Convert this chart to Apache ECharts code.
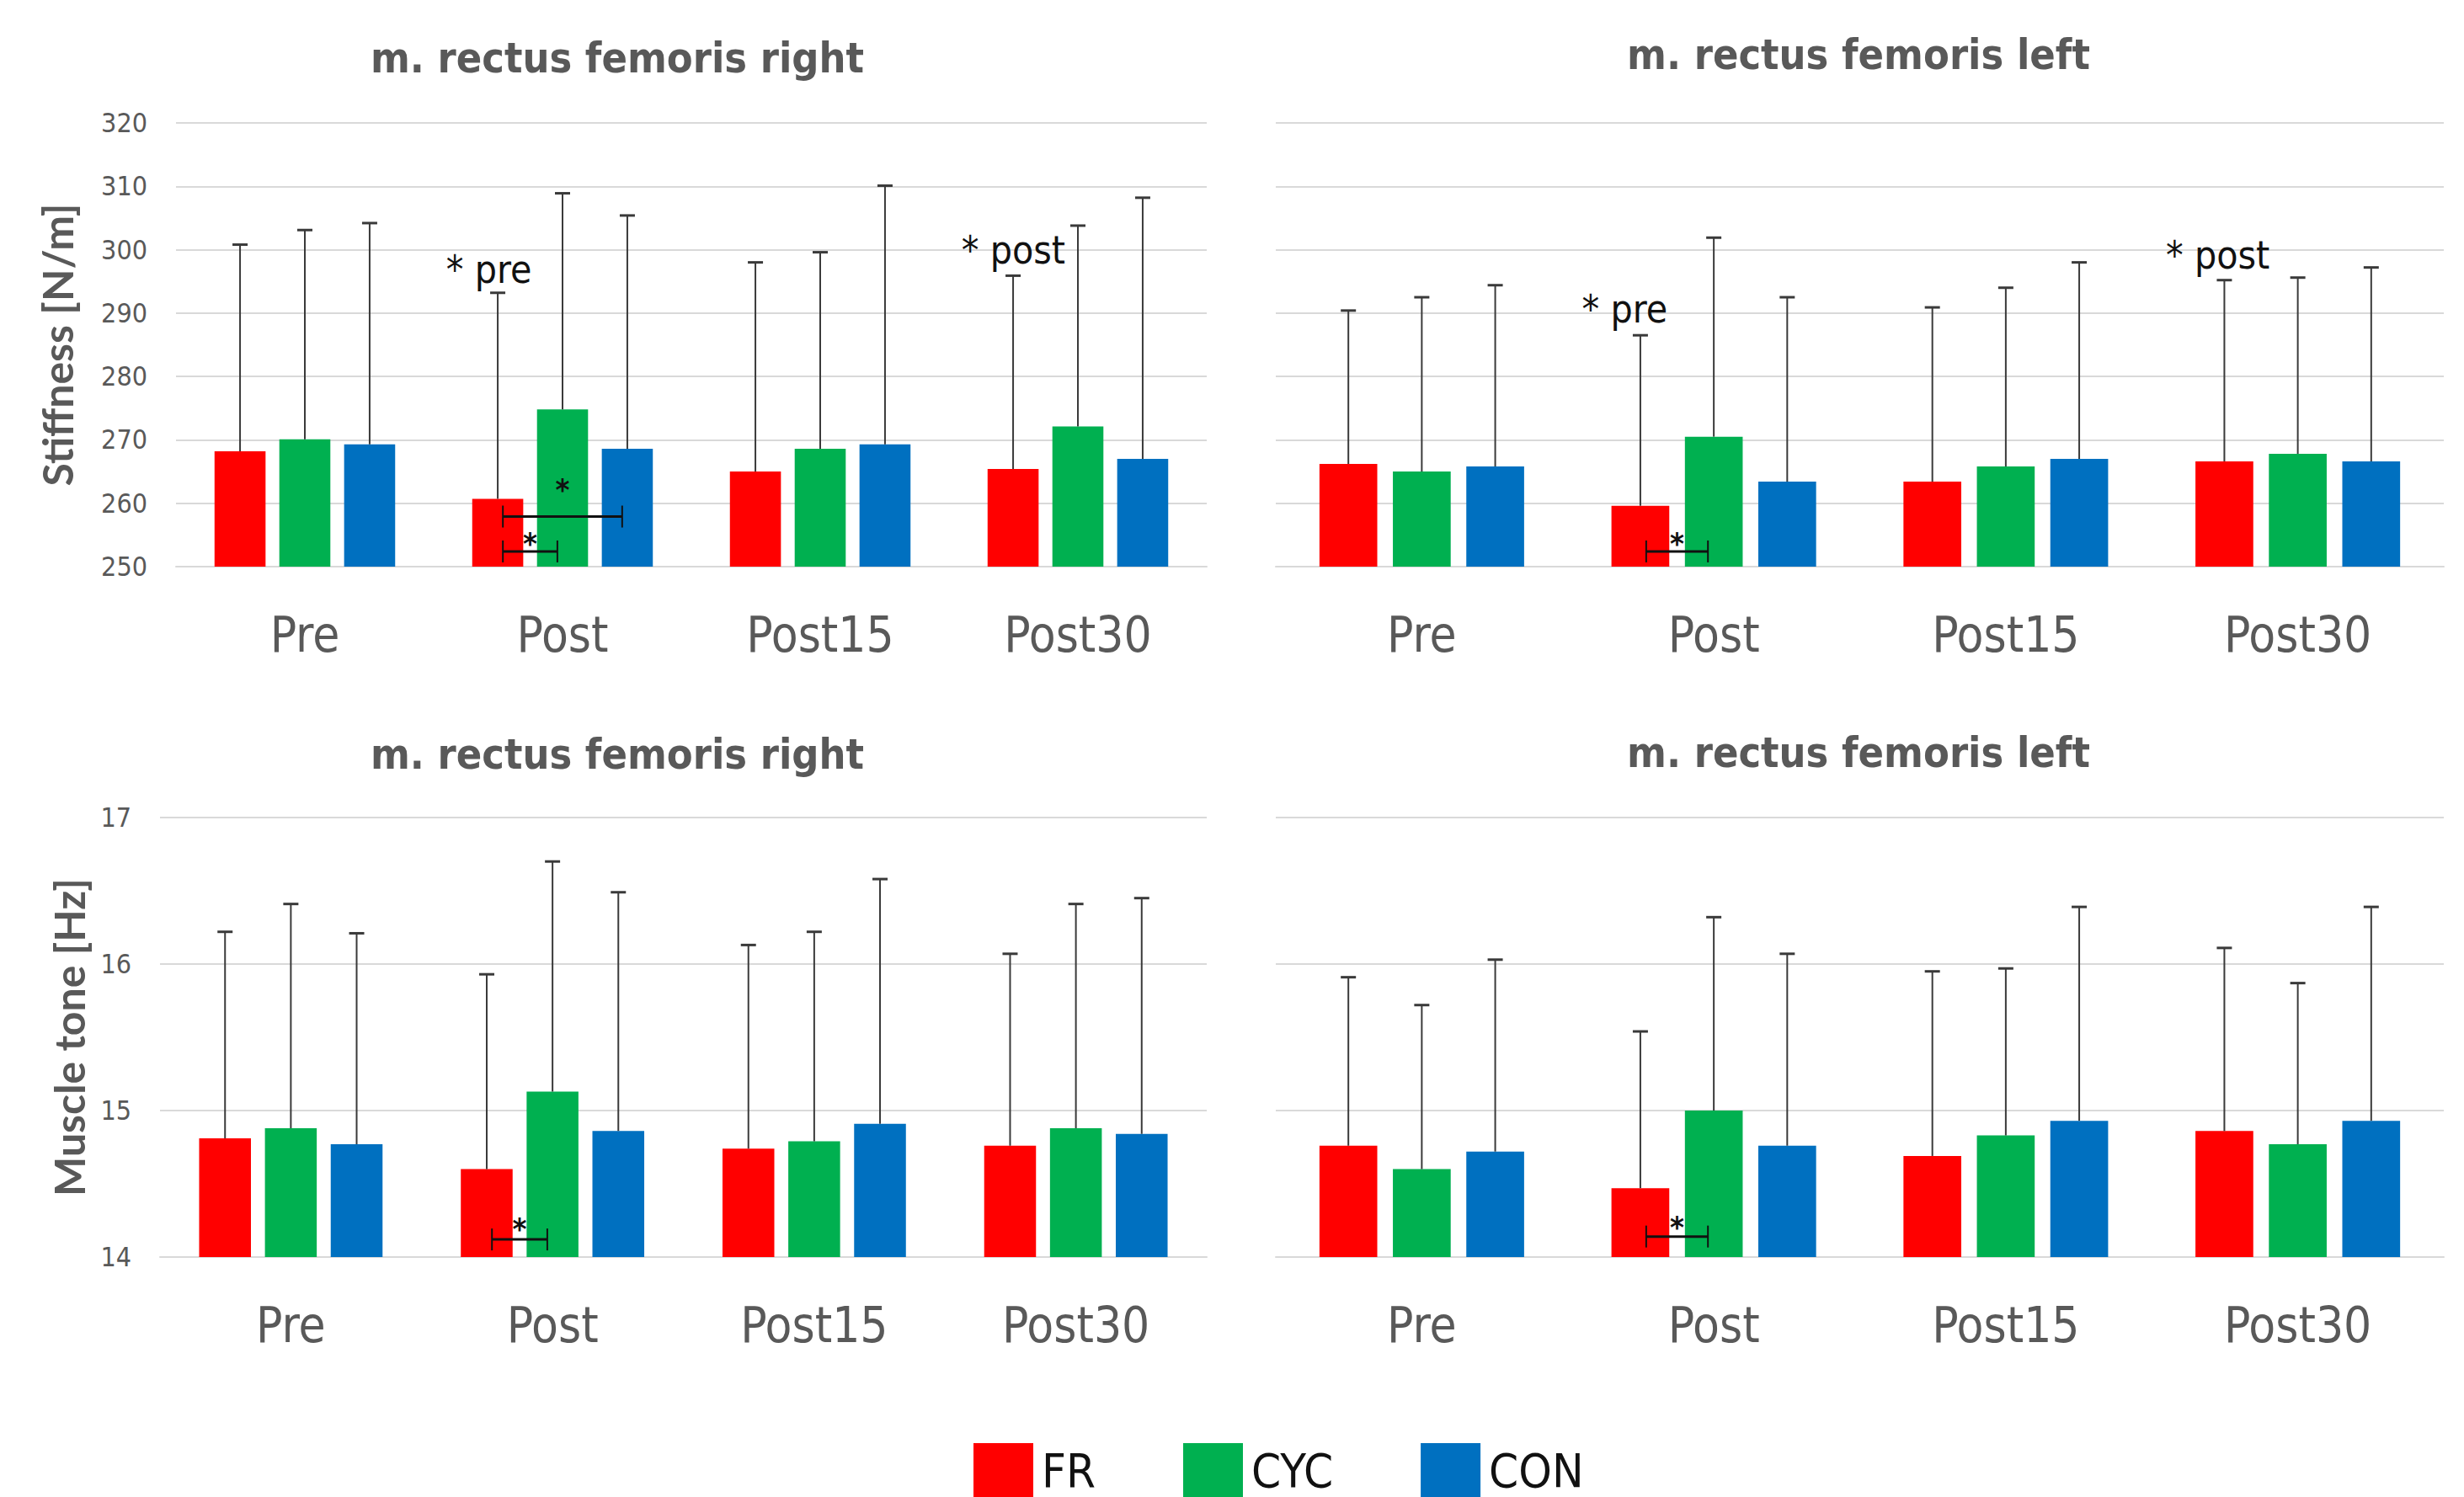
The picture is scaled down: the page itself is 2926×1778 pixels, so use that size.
<!DOCTYPE html>
<html>
<head>
<meta charset="utf-8">
<title>m. rectus femoris</title>
<script src="https://cdn.jsdelivr.net/npm/echarts@6/dist/echarts.min.js"></script>
<style>
  html, body { margin: 0; padding: 0; background: #fff; }
  .chart { width: 2926px; height: 1778px; }
</style>
</head>
<body>
<div class="chart"></div>
<script>
// 数据
var categories = ['Pre', 'Post', 'Post15', 'Post30'];
var groups = ['FR', 'CYC', 'CON'];
var colors = ['#FF0000', '#00B050', '#0070C0'];

// Stiffness, right leg (mean, upper SD)
var stiffRightFR = [268.2, 260.7, 265.0, 265.4];
var stiffRightCYC = [270.1, 274.8, 268.6, 272.1];
var stiffRightCON = [269.3, 268.6, 269.3, 267.0];
var stiffRightFRsd = [32.6, 32.5, 33.0, 30.5];
var stiffRightCYCsd = [33.0, 34.1, 31.0, 31.7];
var stiffRightCONsd = [34.9, 36.8, 40.8, 41.2];

// Stiffness, left leg
var stiffLeftFR = [266.2, 259.6, 263.4, 266.6];
var stiffLeftCYC = [265.0, 270.5, 265.8, 267.8];
var stiffLeftCON = [265.8, 263.4, 267.0, 266.6];
var stiffLeftFRsd = [24.2, 26.9, 27.5, 28.6];
var stiffLeftCYCsd = [27.5, 31.4, 28.2, 27.8];
var stiffLeftCONsd = [28.6, 29.1, 31.0, 30.6];

// Muscle tone, right leg
var toneRightFR = [14.81, 14.60, 14.74, 14.76];
var toneRightCYC = [14.88, 15.13, 14.79, 14.88];
var toneRightCON = [14.77, 14.86, 14.91, 14.84];
var toneRightFRsd = [1.41, 1.33, 1.39, 1.31];
var toneRightCYCsd = [1.53, 1.57, 1.43, 1.53];
var toneRightCONsd = [1.44, 1.63, 1.67, 1.61];

// Muscle tone, left leg
var toneLeftFR = [14.76, 14.47, 14.69, 14.86];
var toneLeftCYC = [14.60, 15.00, 14.83, 14.77];
var toneLeftCON = [14.72, 14.76, 14.93, 14.93];
var toneLeftFRsd = [1.15, 1.07, 1.26, 1.25];
var toneLeftCYCsd = [1.12, 1.32, 1.14, 1.10];
var toneLeftCONsd = [1.31, 1.31, 1.46, 1.46];

// y 轴刻度
var stiffTicks = [250, 260, 270, 280, 290, 300, 310, 320];
var toneTicks = [14, 15, 16, 17];

// 标注: [category, value, text]
var notesStiffRight = [[1, 296.9, '* pre'], [3, 300.0, '* post']];
var notesStiffLeft = [[1, 290.6, '* pre'], [3, 299.2, '* post']];
// 括号: [category, fromBar, toBar, lineValue, starValue]
var bracketsStiffRight = [[1, 0, 2, 257.9, 263.2], [1, 0, 1, 252.4, 254.8]];
var bracketsStiffLeft = [[1, 0, 1, 252.4, 254.8]];
var bracketsToneRight = [[1, 0, 1, 14.12, 14.24]];
var bracketsToneLeft = [[1, 0, 1, 14.14, 14.25]];

var BAR_W = 0.198;
var BAR_GAP = 0.27;
var NARROW = "'Liberation Sans Narrow', 'DejaVu Sans Condensed', sans-serif";
var GREY = '#595959';

var panels = [
  {
    title: 'm. rectus femoris right', tx: 733, ty: 69,
    grid: { left: 209, top: 146, width: 1224, height: 527 },
    ticks: stiffTicks, name: 'Stiffness [N/m]', nameGap: 116, showY: true,
    means: [stiffRightFR, stiffRightCYC, stiffRightCON],
    sd: [stiffRightFRsd, stiffRightCYCsd, stiffRightCONsd],
    notes: notesStiffRight, brackets: bracketsStiffRight
  },
  {
    title: 'm. rectus femoris left', tx: 2207, ty: 65,
    grid: { left: 1515, top: 146, width: 1387, height: 527 },
    ticks: stiffTicks, name: '', showY: false,
    means: [stiffLeftFR, stiffLeftCYC, stiffLeftCON],
    sd: [stiffLeftFRsd, stiffLeftCYCsd, stiffLeftCONsd],
    notes: notesStiffLeft, brackets: bracketsStiffLeft
  },
  {
    title: 'm. rectus femoris right', tx: 733, ty: 896,
    grid: { left: 190, top: 971, width: 1243, height: 522 },
    ticks: toneTicks, name: 'Muscle tone [Hz]', nameGap: 83, showY: true,
    means: [toneRightFR, toneRightCYC, toneRightCON],
    sd: [toneRightFRsd, toneRightCYCsd, toneRightCONsd],
    notes: [], brackets: bracketsToneRight
  },
  {
    title: 'm. rectus femoris left', tx: 2207, ty: 894,
    grid: { left: 1515, top: 971, width: 1387, height: 522 },
    ticks: toneTicks, name: '', showY: false,
    means: [toneLeftFR, toneLeftCYC, toneLeftCON],
    sd: [toneLeftFRsd, toneLeftCYCsd, toneLeftCONsd],
    notes: [], brackets: bracketsToneLeft
  }
];

// 柱子中心的偏移
function barCenter(api, cat, val, s) {
  var band = api.size([1, 0])[0];
  var p = api.coord([cat, val]);
  return [p[0] + (s - 1) * band * BAR_W * (1 + BAR_GAP), p[1], band];
}

var grids = [], xAxes = [], yAxes = [], series = [], graphics = [];

panels.forEach(function (p, gi) {
  grids.push({
    left: p.grid.left, top: p.grid.top, width: p.grid.width, height: p.grid.height,
    outerBoundsMode: 'none'
  });
  xAxes.push({
    type: 'category', gridIndex: gi, data: categories,
    axisTick: { show: false },
    axisLine: { lineStyle: { color: '#D9D9D9', width: 2 } },
    axisLabel: { color: GREY, fontSize: 58, fontFamily: NARROW, margin: 52 }
  });
  var t = p.ticks;
  yAxes.push({
    type: 'value', gridIndex: gi,
    min: t[0], max: t[t.length - 1], interval: t[1] - t[0],
    name: p.name, nameLocation: 'middle', nameGap: p.nameGap || 0,
    nameTextStyle: { color: GREY, fontSize: 50, fontWeight: 'bold', fontFamily: 'Lato, sans-serif' },
    axisLine: { show: false }, axisTick: { show: false },
    axisLabel: { show: p.showY, color: GREY, fontSize: 32, fontFamily: NARROW, margin: 34 },
    splitLine: { lineStyle: { color: '#D9D9D9', width: 2 } }
  });

  // 柱状图
  for (var s = 0; s < 3; s++) {
    series.push({
      name: groups[s], type: 'bar', xAxisIndex: gi, yAxisIndex: gi,
      data: p.means[s], barWidth: (BAR_W * 100) + '%', barGap: (BAR_GAP * 100) + '%',
      itemStyle: { color: colors[s] }, silent: true
    });
  }

  // 误差线
  var errData = [];
  for (var s2 = 0; s2 < 3; s2++) {
    for (var c = 0; c < categories.length; c++) {
      errData.push([c, p.means[s2][c], p.sd[s2][c], s2]);
    }
  }
  series.push({
    name: 'err' + gi, type: 'custom', xAxisIndex: gi, yAxisIndex: gi, z: 5, silent: true,
    data: errData, encode: { x: 0, y: 1 },
    renderItem: function (params, api) {
      var m = api.value(1), sd = api.value(2);
      var b = barCenter(api, api.value(0), m, api.value(3));
      var yTop = api.coord([api.value(0), m + sd])[1];
      return {
        type: 'group', children: [
          { type: 'line', shape: { x1: b[0], y1: b[1], x2: b[0], y2: yTop }, style: { stroke: '#3a3a3a', lineWidth: 2 } },
          { type: 'line', shape: { x1: b[0] - 9, y1: yTop, x2: b[0] + 9, y2: yTop }, style: { stroke: '#3a3a3a', lineWidth: 3 } }
        ]
      };
    }
  });

  // 显著性括号
  var br = p.brackets;
  series.push({
    name: 'sig' + gi, type: 'custom', xAxisIndex: gi, yAxisIndex: gi, z: 6, silent: true,
    data: br.map(function (d) { return [d[0], d[3], d[1], d[2], d[4]]; }),
    encode: { x: 0, y: 1 },
    renderItem: function (params, api) {
      var cat = api.value(0), yv = api.value(1);
      var a = barCenter(api, cat, yv, api.value(2));
      var b = barCenter(api, cat, yv, api.value(3));
      var band = a[2];
      var x1 = a[0] + 0.02 * band, x2 = b[0] - 0.02 * band, y = a[1];
      var ys = api.coord([cat, api.value(4)])[1];
      var fs = 36;
      return {
        type: 'group', children: [
          { type: 'line', shape: { x1: x1, y1: y, x2: x2, y2: y }, style: { stroke: '#111', lineWidth: 3 } },
          { type: 'line', shape: { x1: x1, y1: y - 13, x2: x1, y2: y + 13 }, style: { stroke: '#111', lineWidth: 2 } },
          { type: 'line', shape: { x1: x2, y1: y - 13, x2: x2, y2: y + 13 }, style: { stroke: '#111', lineWidth: 2 } },
          {
            type: 'text', x: (a[0] + b[0]) / 2, y: ys + fs * 0.23,
            style: { text: '*', fill: '#111', fontSize: fs, fontWeight: 'bold', fontFamily: NARROW, align: 'center', verticalAlign: 'middle' }
          }
        ]
      };
    }
  });

  // 文字标注
  var notes = p.notes;
  series.push({
    name: 'note' + gi, type: 'custom', xAxisIndex: gi, yAxisIndex: gi, z: 6, silent: true,
    data: notes.map(function (d) { return [d[0], d[1]]; }),
    encode: { x: 0, y: 1 },
    renderItem: function (params, api) {
      var b = barCenter(api, api.value(0), api.value(1), 0);
      return {
        type: 'text', x: b[0] - 0.2 * b[2], y: b[1],
        style: { text: notes[params.dataIndex][2], fill: '#111', fontSize: 46, fontFamily: NARROW, align: 'left', verticalAlign: 'middle' }
      };
    }
  });

  graphics.push({
    type: 'text', x: p.tx, y: p.ty,
    style: { text: p.title, fill: GREY, fontSize: 50, fontWeight: 'bold', fontFamily: NARROW, align: 'center', verticalAlign: 'middle' }
  });
});

var myChart = echarts.init(document.querySelector('.chart'), null, { renderer: 'svg' });
var option = {
  animation: false,
  backgroundColor: '#fff',
  grid: grids,
  xAxis: xAxes,
  yAxis: yAxes,
  legend: {
    data: groups, left: 1151, top: 1709, icon: 'rect',
    itemWidth: 71, itemHeight: 64, itemGap: 104, selectedMode: false,
    textStyle: { fontSize: 56, fontFamily: NARROW, color: '#111', padding: [0, 0, 0, 5] }
  },
  graphic: graphics,
  series: series
};
myChart.setOption(option);
window.addEventListener('resize', function () {
  myChart.resize();
});
</script>
</body>
</html>
